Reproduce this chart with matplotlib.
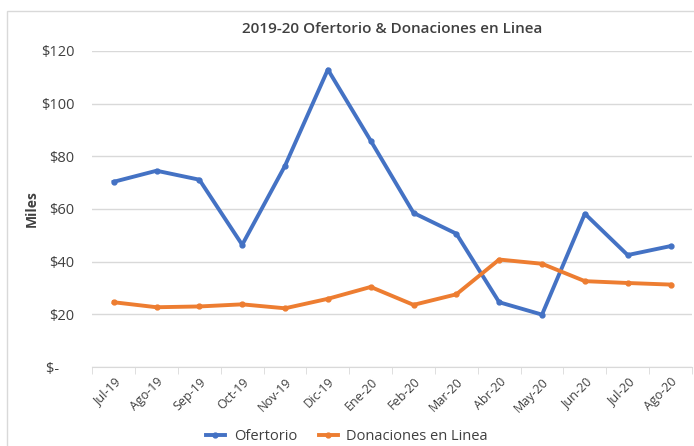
import matplotlib.pyplot as plt
from matplotlib.ticker import FuncFormatter, FixedLocator
from matplotlib.patches import Rectangle

meses = ['Jul-19', 'Ago-19', 'Sep-19', 'Oct-19', 'Nov-19', 'Dic-19', 'Ene-20',
         'Feb-20', 'Mar-20', 'Abr-20', 'May-20', 'Jun-20', 'Jul-20', 'Ago-20']
ofertorio = [70.3, 74.5, 71.1, 46.4, 76.4, 112.9, 85.9, 58.5, 50.6, 24.6, 19.9, 58.2, 42.5, 45.9]
donaciones = [24.6, 22.7, 23.0, 23.8, 22.3, 25.9, 30.4, 23.6, 27.6, 40.8, 39.2, 32.6, 31.9, 31.3]

plt.rcParams['font.family'] = ['Open Sans', 'DejaVu Sans']

fig = plt.figure(figsize=(6.94, 4.46), dpi=100)
fig.patches.append(Rectangle((0.01, -0.01), 1.0, 0.985, transform=fig.transFigure,
                             fill=False, edgecolor='#d9d9d9', linewidth=1))
ax = fig.add_axes([0.133, 0.177, 0.864, 0.709])

x = list(range(len(meses)))
ax.plot(x, ofertorio, color='#4472C4', linewidth=2.8, marker='o', markersize=3.5, label='Ofertorio')
ax.plot(x, donaciones, color='#ED7D31', linewidth=2.8, marker='o', markersize=3.5, label='Donaciones en Linea')

ax.set_xlim(-0.5, len(meses) - 0.5)
ax.set_ylim(0, 120)
ax.set_yticks(range(0, 121, 20))
ax.yaxis.set_major_formatter(FuncFormatter(lambda v, p: '$-    ' if v == 0 else f'${int(v)}'))
ax.set_xticks(x)
ax.set_xticklabels(meses, rotation=45, ha='right', rotation_mode='anchor', fontsize=9, color='#404040')
ax.tick_params(axis='x', length=0, pad=6)
# separadores entre categorias, estilo Excel
ax.xaxis.set_minor_locator(FixedLocator([i - 0.5 for i in range(len(meses) + 1)]))
ax.tick_params(axis='x', which='minor', length=5, color='#d9d9d9')
ax.tick_params(axis='y', length=0, labelsize=10.5, labelcolor='#404040', pad=13)

ax.grid(axis='y', color='#d9d9d9', linewidth=1)
ax.set_axisbelow(True)
for s in ['top', 'right', 'left']:
    ax.spines[s].set_visible(False)
ax.spines['bottom'].set_color('#d9d9d9')

ax.set_ylabel('Miles', fontsize=10, fontweight='bold', color='#404040')
ax.yaxis.set_label_coords(-0.09, 0.5)
fig.text(0.565, 0.935, '2019-20 Ofertorio & Donaciones en Linea', ha='center', va='center',
         fontsize=11, fontweight='semibold', color='#404040')
fig.legend(loc='center', bbox_to_anchor=(0.5, 0.022), ncol=2, frameon=False, fontsize=10.5,
           handlelength=1.3, handletextpad=0.6, columnspacing=1.5, labelcolor='#404040')

fig.savefig('out.png', dpi=100)
